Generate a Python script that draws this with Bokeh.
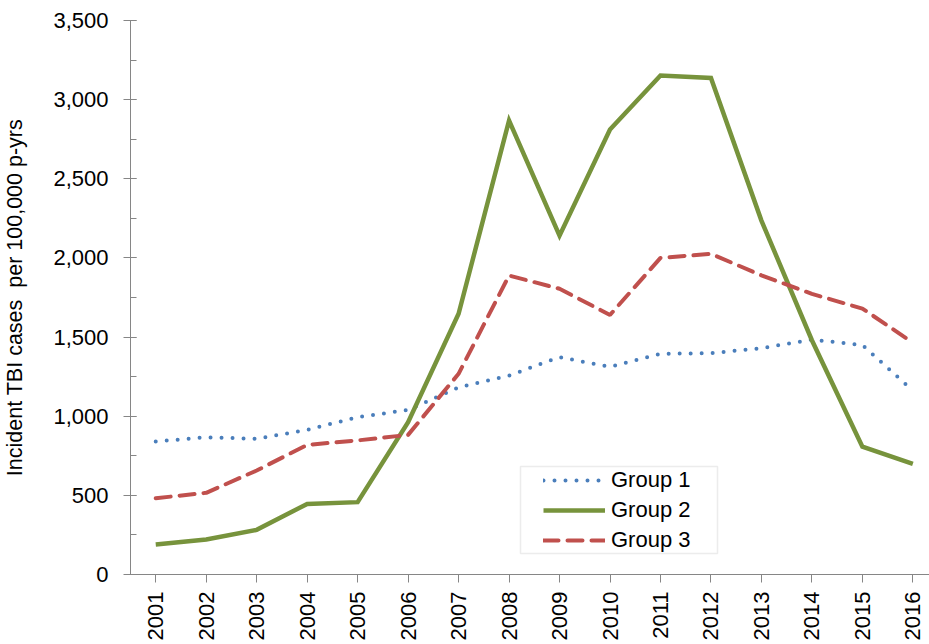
from bokeh.plotting import figure
from bokeh.models import (Range1d, FixedTicker, SingleIntervalTicker, NumeralTickFormatter,
                          Legend, LegendItem, BoxAnnotation)
from bokeh.embed import file_html
from bokeh.resources import INLINE
import math

years = list(range(2001, 2017))
group1 = [840, 867, 857, 914, 994, 1040, 1183, 1257, 1373, 1312, 1394, 1398, 1430, 1484, 1450, 1162]
group2 = [190, 221, 282, 446, 457, 962, 1647, 2868, 2141, 2811, 3152, 3137, 2236, 1480, 808, 699]
group3 = [482, 516, 657, 819, 847, 882, 1268, 1889, 1805, 1640, 2000, 2026, 1890, 1773, 1680, 1465]
series_names = ["Group 1", "Group 2", "Group 3"]
y_label = "Incident TBI cases\u00a0 per 100,000 p-yrs"

FONT = "Liberation Sans"
AXIS_COLOR = "#868686"

p = figure(width=929, height=644, output_backend="svg", toolbar_location=None,
           x_range=Range1d(2000.5, 2016.33), y_range=Range1d(0, 3500),
           min_border_left=130, min_border_top=20, min_border_right=0, min_border_bottom=70)
p.outline_line_color = None
p.xgrid.grid_line_color = None
p.ygrid.grid_line_color = None
p.background_fill_color = "white"
p.border_fill_color = "white"

r1 = p.line(years, group1, line_color="#4A7EBB", line_width=4, line_dash="0 11", line_cap="round")
r2 = p.line(years, group2, line_color="#77933C", line_width=4.5, line_join="miter")
r3 = p.line(years, group3, line_color="#C0504D", line_width=4, line_dash="15 9", line_cap="round")

# x axis
xa = p.xaxis[0]
xa.ticker = FixedTicker(ticks=years, minor_ticks=[])
xa.major_label_orientation = math.pi / 2
xa.axis_line_color = AXIS_COLOR
xa.major_tick_line_color = AXIS_COLOR
xa.major_tick_in = 0
xa.major_tick_out = 8
xa.minor_tick_line_color = None
xa.major_label_text_font = FONT
xa.major_label_text_font_size = "22px"
xa.major_label_text_color = "black"
xa.major_label_standoff = 9

# y axis
ya = p.yaxis[0]
ya.ticker = SingleIntervalTicker(interval=500, num_minor_ticks=2)
ya.formatter = NumeralTickFormatter(format="0,0")
ya.axis_line_color = AXIS_COLOR
ya.major_tick_line_color = AXIS_COLOR
ya.minor_tick_line_color = AXIS_COLOR
ya.major_tick_in = 6
ya.major_tick_out = 7
ya.minor_tick_in = 6
ya.minor_tick_out = 0
ya.major_label_text_font = FONT
ya.major_label_text_font_size = "22px"
ya.major_label_text_color = "black"
ya.major_label_standoff = 15
ya.axis_label = y_label
ya.axis_label_text_font = FONT
ya.axis_label_text_font_size = "21.5px"
ya.axis_label_text_font_style = "normal"
ya.axis_label_text_color = "black"
ya.axis_label_standoff = 23

legend = Legend(items=[LegendItem(label=series_names[0], renderers=[r1]),
                       LegendItem(label=series_names[1], renderers=[r2]),
                       LegendItem(label=series_names[2], renderers=[r3])],
                location=(413, 21), orientation="vertical")
legend.border_line_alpha = 0
legend.background_fill_alpha = 0
legend.padding = 0
legend.margin = 0
legend.spacing = 4
legend.glyph_width = 62
legend.glyph_height = 26
legend.label_height = 26
legend.label_standoff = 6
legend.label_text_font = FONT
legend.label_text_font_size = "22px"
legend.label_text_color = "black"
legend.label_text_baseline = "middle"
p.add_layout(legend, "center")

box = BoxAnnotation(left=390, right=587, bottom=21, top=108,
                    left_units="screen", right_units="screen",
                    bottom_units="screen", top_units="screen",
                    fill_alpha=0, line_color="#BFBFBF", line_width=1.5)
p.add_layout(box)

open("out.html", "w").write(file_html(p, INLINE))
